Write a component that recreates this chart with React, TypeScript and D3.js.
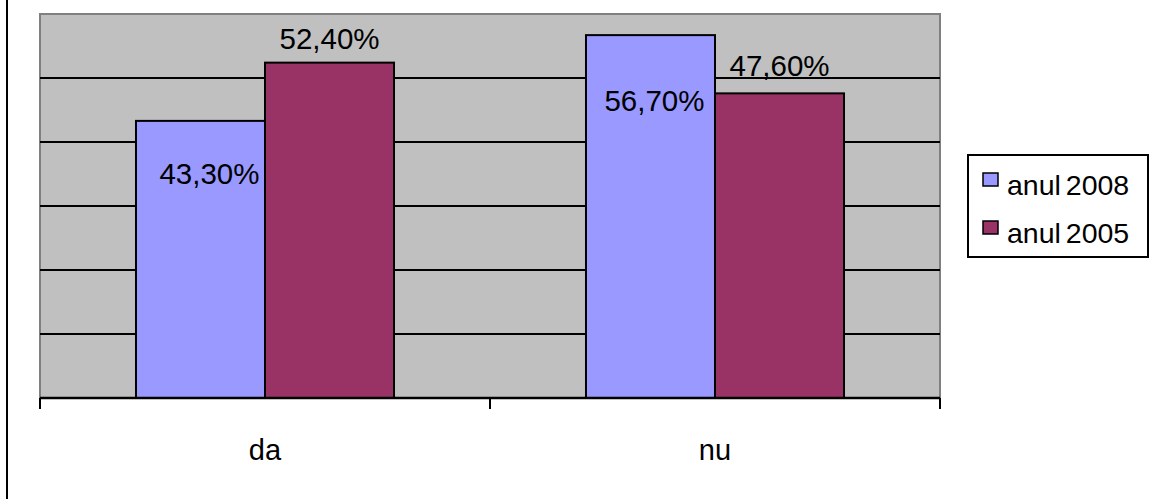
import React, { useEffect, useRef } from 'react';
import * as d3 from 'd3';

const categories = ['da', 'nu'];
const seriesNames = ['anul 2008', 'anul 2005'];
const seriesValues = [
  [43.3, 56.7], // anul 2008
  [52.4, 47.6], // anul 2005
];
const yTicks = [0, 10, 20, 30, 40, 50, 60];
const colors = ['#9999FF', '#993366'];

// label nudges (px) to mimic the hand-placed Excel labels
const labelNudge = [
  [{ dx: 9, dy: 63 }, { dx: 4, dy: 76 }],
  [{ dx: 0, dy: -14 }, { dx: 0, dy: -17 }],
];

const fmt = (v: number) => v.toFixed(2).replace('.', ',') + '%';

export default function App() {
  const svgRef = useRef<SVGSVGElement>(null);

  useEffect(() => {
    if (!svgRef.current) return;
    const svg = d3.select(svgRef.current);
    svg.selectAll('*').remove();

    const width = 1152;
    const height = 499;
    const plot = { left: 40, right: 940, top: 14, bottom: 398 };
    const font = '"Liberation Sans", Arial, sans-serif';

    // outer chart frame (only left side visible in the picture)
    svg.append('rect')
      .attr('x', 7).attr('y', -20)
      .attr('width', width + 40).attr('height', height + 40)
      .attr('fill', 'white')
      .attr('stroke', '#000').attr('stroke-width', 2);

    const x0 = d3.scaleBand<string>()
      .domain(categories)
      .range([plot.left, plot.right])
      .padding(0);

    const x1 = d3.scaleBand<number>()
      .domain(d3.range(seriesNames.length))
      .range([0, x0.bandwidth()])
      .paddingInner(0)
      .paddingOuter(0.744);

    const y = d3.scaleLinear()
      .domain([0, 60])
      .range([plot.bottom, plot.top]);

    // plot background
    svg.append('rect')
      .attr('x', plot.left).attr('y', plot.top)
      .attr('width', plot.right - plot.left)
      .attr('height', plot.bottom - plot.top)
      .attr('fill', '#C0C0C0')
      .attr('stroke', '#808080').attr('stroke-width', 2);

    // gridlines
    svg.append('g')
      .selectAll('line')
      .data(yTicks.filter(t => t > 0 && t < 60))
      .enter()
      .append('line')
      .attr('x1', plot.left).attr('x2', plot.right)
      .attr('y1', d => y(d)).attr('y2', d => y(d))
      .attr('stroke', '#000').attr('stroke-width', 2);

    // bars
    const groups = svg.append('g')
      .selectAll('g')
      .data(categories)
      .enter()
      .append('g')
      .attr('transform', d => `translate(${x0(d)},0)`);

    groups.selectAll('rect')
      .data((_, ci) => seriesValues.map((s, si) => ({ si, ci, v: s[ci] })))
      .enter()
      .append('rect')
      .attr('x', d => x1(d.si)!)
      .attr('y', d => y(d.v))
      .attr('width', x1.bandwidth())
      .attr('height', d => y(0) - y(d.v))
      .attr('fill', d => colors[d.si])
      .attr('stroke', '#000').attr('stroke-width', 2);

    // x axis
    const axis = svg.append('g');
    axis.append('line')
      .attr('x1', plot.left).attr('x2', plot.right)
      .attr('y1', plot.bottom).attr('y2', plot.bottom)
      .attr('stroke', '#000').attr('stroke-width', 2.5);
    const tickXs = [...categories.map(c => x0(c)!), plot.right];
    axis.selectAll('line.tick')
      .data(tickXs)
      .enter()
      .append('line')
      .attr('class', 'tick')
      .attr('x1', d => d).attr('x2', d => d)
      .attr('y1', plot.bottom).attr('y2', plot.bottom + 11)
      .attr('stroke', '#000').attr('stroke-width', 2);
    axis.selectAll('text')
      .data(categories)
      .enter()
      .append('text')
      .attr('x', d => x0(d)! + x0.bandwidth() / 2)
      .attr('y', 460)
      .attr('text-anchor', 'middle')
      .attr('font-family', font)
      .attr('font-size', 29)
      .attr('fill', '#000')
      .text(d => d);

    // data labels
    groups.selectAll('text')
      .data((_, ci) => seriesValues.map((s, si) => ({ si, ci, v: s[ci] })))
      .enter()
      .append('text')
      .attr('x', d => x1(d.si)! + x1.bandwidth() / 2 + labelNudge[d.si][d.ci].dx)
      .attr('y', d => y(d.v) + labelNudge[d.si][d.ci].dy)
      .attr('text-anchor', 'middle')
      .attr('font-family', font)
      .attr('font-size', 29.5)
      .attr('fill', '#000')
      .text(d => fmt(d.v));

    // legend
    const legend = svg.append('g');
    legend.append('rect')
      .attr('x', 968).attr('y', 155)
      .attr('width', 180).attr('height', 102)
      .attr('fill', 'white')
      .attr('stroke', '#000').attr('stroke-width', 2);
    const items = legend.selectAll('g')
      .data(seriesNames)
      .enter()
      .append('g')
      .attr('transform', (_, i) => `translate(983,${173 + i * 48})`);
    items.append('rect')
      .attr('width', 15).attr('height', 13)
      .attr('fill', (_, i) => colors[i])
      .attr('stroke', '#000').attr('stroke-width', 1.5);
    items.append('text')
      .attr('x', 24).attr('y', 22)
      .attr('font-family', font)
      .attr('font-size', 28.5)
      .attr('word-spacing', -3)
      .attr('fill', '#000')
      .text(d => d);
  }, []);

  return (
    <svg
      ref={svgRef}
      width={1152}
      height={499}
      style={{ position: 'absolute', left: 0, top: 0, display: 'block' }}
    />
  );
}
